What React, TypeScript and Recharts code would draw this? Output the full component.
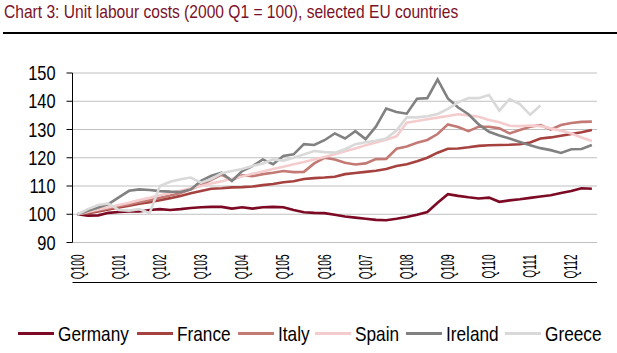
import { LineChart, Line, XAxis, YAxis, CartesianGrid } from 'recharts'

// 2000 Q1 .. 2012 Q3, one label per year (Q1 of each year)
const tickLabels = ['Q100', 'Q101', 'Q102', 'Q103', 'Q104', 'Q105', 'Q106', 'Q107', 'Q108', 'Q109', 'Q110', 'Q111', 'Q112']
const yTicks = [90, 100, 110, 120, 130, 140, 150]

// values, index 0 = 2000 Q1
const germany = [
    100.0, 99.5, 99.6, 100.5, 100.8, 101.0, 101.0, 101.5, 101.8, 101.5,
    101.8, 102.2, 102.5, 102.6, 102.6, 102.0, 102.5, 102.0, 102.5, 102.6,
    102.5, 101.5, 100.7, 100.5, 100.4, 99.8, 99.2, 98.8, 98.4, 98.0,
    97.9, 98.4, 99.0, 99.8, 100.8, 104.1, 107.1, 106.5, 106.0, 105.6,
    105.9, 104.4, 104.9, 105.3, 105.8, 106.3, 106.7, 107.5, 108.2, 109.2,
    109.0,
]
const france = [
    100.0, 100.4, 101.0, 101.7, 102.4, 103.0, 103.7, 104.3, 105.0, 105.7,
    106.5, 107.4, 108.2, 109.0, 109.2, 109.5, 109.6, 109.8, 110.3, 110.7,
    111.3, 111.7, 112.5, 112.8, 113.0, 113.3, 114.2, 114.6, 115.0, 115.4,
    116.0, 117.1, 117.7, 118.8, 120.0, 121.8, 123.2, 123.3, 123.7, 124.2,
    124.4, 124.5, 124.6, 124.8, 125.4, 126.8, 127.2, 127.8, 128.4, 129.0,
    129.8,
]
const italy = [
    100.0, 100.6, 101.3, 102.0, 102.8, 103.5, 104.3, 105.0, 105.8, 106.6,
    107.5, 108.8, 110.3, 112.2, 114.0, 112.1, 113.8, 113.5, 114.2, 114.7,
    115.3, 114.9, 115.0, 118.0, 120.0, 119.4, 118.2, 117.6, 118.0, 119.5,
    119.6, 123.2, 124.0, 125.3, 126.3, 128.4, 131.8, 130.9, 129.4, 131.0,
    131.0, 130.4, 128.6, 129.8, 131.0, 131.6, 130.0, 131.6, 132.3, 132.7,
    132.8,
]
const spain = [
    100.0, 100.9, 101.7, 102.5, 103.3, 104.1, 105.0, 105.8, 106.7, 107.5,
    108.3, 109.2, 110.0, 110.9, 111.7, 112.6, 113.4, 114.3, 115.1, 116.0,
    116.8, 117.7, 118.5, 119.4, 120.3, 121.2, 122.3, 123.3, 124.4, 125.4,
    126.4, 127.6, 132.4, 133.0, 133.6, 134.2, 134.8, 135.4, 135.0, 134.5,
    133.4, 132.6, 131.3, 131.2, 131.4, 131.2, 130.4, 129.6, 128.6, 127.2,
    125.9,
]
const ireland = [
    100.0, 101.2, 102.4, 103.6, 106.0, 108.3, 108.8, 108.6, 108.2, 108.0,
    107.9, 108.8, 111.8, 113.6, 114.7, 111.8, 115.3, 117.0, 119.4, 117.7,
    120.6, 121.2, 124.8, 124.5, 126.2, 128.6, 126.8, 129.4, 126.6, 131.0,
    137.4, 136.2, 135.6, 140.9, 141.1, 147.7, 141.0, 137.8, 135.4, 131.8,
    129.2, 127.9, 126.8, 125.6, 124.4, 123.4, 122.7, 121.7, 123.0, 123.1,
    124.5,
]
// Greece stops at 2011 Q2
const greece = [
    100.0, 101.8, 103.3, 103.8, 101.5, 101.3, 101.8, 100.4, 110.0, 111.5,
    112.4, 113.0, 111.2, 112.5, 114.5, 115.3, 116.0, 117.1, 118.0, 119.4,
    119.0, 120.0, 121.2, 122.4, 122.0, 121.8, 123.0, 124.8, 125.5, 126.0,
    126.8, 129.6, 134.3, 134.3, 134.7, 135.5, 137.3, 139.6, 141.1, 141.1,
    142.2, 136.7, 140.8, 139.0, 135.2, 138.5,
]

const series = [
    { name: 'Germany', values: germany, color: '#7d0a24' },
    { name: 'France', values: france, color: '#a5423f' },
    { name: 'Italy', values: italy, color: '#c47a74' },
    { name: 'Spain', values: spain, color: '#f5cccd' },
    { name: 'Ireland', values: ireland, color: '#818181' },
    { name: 'Greece', values: greece, color: '#d9d9d9' },
]

const data = germany.map((_, i) => {
    const row: Record<string, number | null> = { idx: i + 0.5 }
    series.forEach((s) => {
        row[s.name] = i < s.values.length ? s.values[i] : null
    })
    return row
})

// tick marks sit between quarters, labels in the middle of each year's Q1
const boundaryTicks = data.map((_, i) => i).concat(data.length)
const labelTicks = tickLabels.map((_, k) => k * 4 + 0.5)

// no Arial Narrow here, so squeeze Liberation Sans horizontally
const FONT = "'Liberation Sans', Arial, sans-serif"
const NARROW = 0.82
const legendTextWidth: Record<string, number> = { Germany: 71, France: 53, Italy: 29, Spain: 43, Ireland: 51, Greece: 58 }

function QuarterTick({ x, y, payload }: any) {
    const label = tickLabels[Math.round((payload.value - 0.5) / 4)]
    return (
        <text
            transform={`translate(${x},${y + 12}) rotate(-90) scale(0.56,1)`}
            textAnchor="end"
            dominantBaseline="central"
            fontSize={18}
            fontFamily={FONT}
            fill="#000"
        >
            {label}
        </text>
    )
}

function ValueTick({ x, y, payload }: any) {
    return (
        <text
            transform={`translate(${x},${y}) scale(${NARROW},1)`}
            textAnchor="end"
            dominantBaseline="central"
            fontSize={20}
            fontFamily={FONT}
            fill="#000"
        >
            {payload.value}
        </text>
    )
}

export default function App() {
    return (
        <div style={{ position: 'absolute', left: 0, top: 0, width: 617, height: 353, background: '#fff', overflow: 'hidden' }}>
            <div
                style={{
                    position: 'absolute',
                    left: 4,
                    top: 2,
                    fontFamily: FONT,
                    fontSize: 19,
                    lineHeight: '19px',
                    color: '#7b1128',
                    whiteSpace: 'nowrap',
                    transform: `scaleX(${NARROW})`,
                    transformOrigin: 'left top',
                }}
            >
                Chart 3: Unit labour costs (2000 Q1 = 100), selected EU countries
            </div>
            <div style={{ position: 'absolute', left: 3, top: 32, width: 614, height: 2, background: '#000' }} />

            <LineChart width={617} height={353} data={data} margin={{ top: 73, right: 20, left: 0, bottom: 64.5 }}>
                <CartesianGrid xAxisId="q" vertical={false} stroke="#c0c0c0" strokeWidth={1} />
                <XAxis
                    xAxisId="q"
                    type="number"
                    dataKey="idx"
                    domain={[0, data.length]}
                    ticks={boundaryTicks}
                    interval={0}
                    tick={false}
                    tickSize={5}
                    height={6}
                    axisLine={{ stroke: '#000' }}
                    tickLine={{ stroke: '#000' }}
                />
                <XAxis
                    xAxisId="lab"
                    type="number"
                    dataKey="idx"
                    domain={[0, data.length]}
                    ticks={labelTicks}
                    interval={0}
                    tick={<QuarterTick />}
                    tickSize={0}
                    tickMargin={0}
                    height={40}
                    axisLine={false}
                    tickLine={false}
                />
                <YAxis
                    type="number"
                    domain={[90, 150]}
                    ticks={yTicks}
                    interval={0}
                    width={72.5}
                    tickSize={6}
                    tickMargin={11}
                    tick={<ValueTick />}
                    axisLine={{ stroke: '#000' }}
                    tickLine={{ stroke: '#000' }}
                />
                {series.map((s) => (
                    <Line
                        key={s.name}
                        xAxisId="q"
                        type="linear"
                        dataKey={s.name}
                        stroke={s.color}
                        strokeWidth={2.6}
                        dot={false}
                        activeDot={false}
                        isAnimationActive={false}
                    />
                ))}
            </LineChart>

            <div
                style={{
                    position: 'absolute',
                    left: 0,
                    top: 323,
                    width: 620,
                    display: 'flex',
                    justifyContent: 'center',
                    alignItems: 'center',
                    gap: 8,
                    fontFamily: FONT,
                    fontSize: 21,
                    lineHeight: '21px',
                    color: '#000',
                }}
            >
                {series.map((s) => (
                    <div key={s.name} style={{ display: 'flex', alignItems: 'center', gap: 4 }}>
                        <span style={{ display: 'inline-block', width: 36, height: 3, background: s.color }} />
                        <span style={{ display: 'inline-block', width: legendTextWidth[s.name], whiteSpace: 'nowrap' }}>
                            <span style={{ display: 'inline-block', transform: `scaleX(${NARROW})`, transformOrigin: 'left center' }}>
                                {s.name}
                            </span>
                        </span>
                    </div>
                ))}
            </div>
        </div>
    )
}
